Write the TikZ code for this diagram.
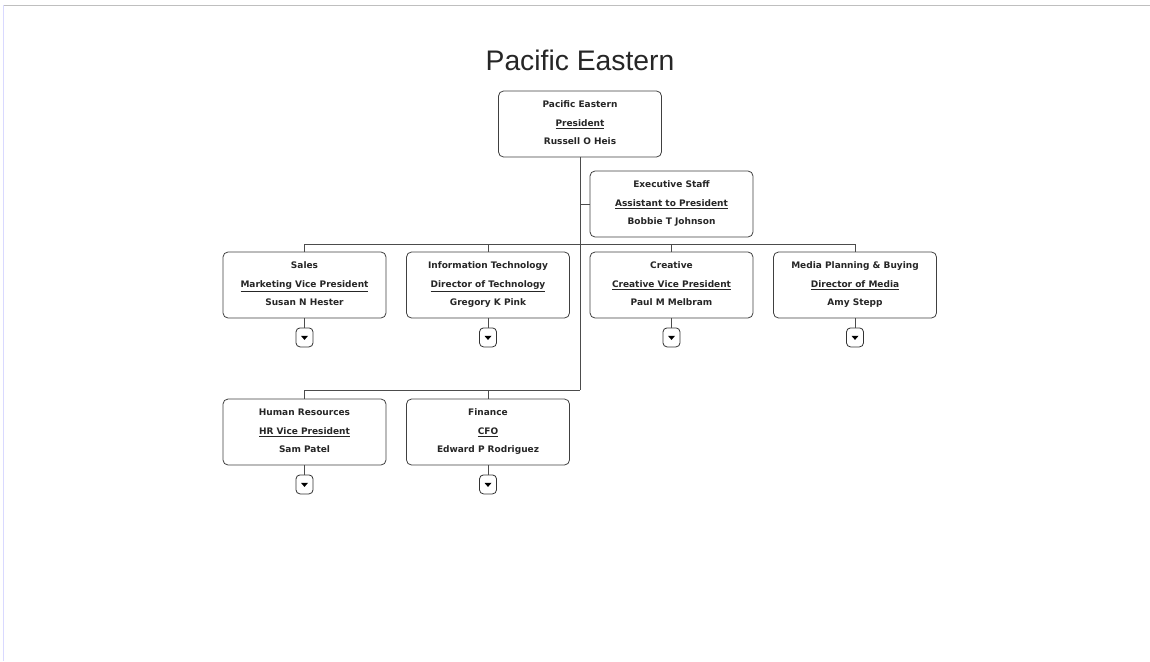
\documentclass[tikz,border=0pt]{standalone}
\usepackage{fontspec}
\setmainfont{Liberation Sans}
\newfontfamily\cardfont{DejaVu Sans}
\usetikzlibrary{calc}
% one org-chart card: name, centre, department, title, person
\newcommand{\orgcard}[5]{%
  \node[orgbox] (#1) at (#2) {};
  \node[boxtext] (#1dept) at ($(#1.north)+(0,17.3)$) {#3};
  \node[boxtext] (#1role) at ($(#1.north)+(0,35.8)$) {\underline{#4}};
  \node[boxtext] (#1name) at ($(#1.north)+(0,54.3)$) {#5};
}
% collapse button under a card
\newcommand{\orgbutton}[1]{%
  \node[expander] (#1btn) at ($(#1.south)+(0,19)$) {};
  \fill[black] ($(#1btn.center)+(-3.5,-1.5)$) -- ($(#1btn.center)+(3.5,-1.5)$) -- ($(#1btn.center)+(0,2.5)$) -- cycle;
  \draw[wire] (#1.south) -- (#1btn.north);
}
\begin{document}
\begin{tikzpicture}[x=1pt,y=-1pt,
  orgbox/.style={draw=black!75,line width=0.8pt,rounded corners=5pt,fill=white,
    minimum width=163pt,minimum height=66pt,inner sep=0pt},
  wire/.style={draw=black!70,line width=0.7pt},
  expander/.style={draw=black!80,line width=0.8pt,rounded corners=4pt,fill=white,
    minimum width=17pt,minimum height=19pt,inner sep=0pt},
  boxtext/.style={font=\cardfont\fontsize{9}{10}\selectfont\bfseries,text=black!85,
    inner sep=0pt,anchor=base}
]
\useasboundingbox (0,0) rectangle (1150,661);
% window frame edges
\draw[black!25,line width=1.2pt] (3,5.5) -- (1150,5.5);
\draw[blue!15,line width=1pt] (3,5) -- (3,661);

\node[font=\fontsize{28.3}{32}\selectfont,text=black!85] (title) at (580,60) {Pacific Eastern};

% cards
\orgcard{pres}{580,124}{Pacific Eastern}{President}{Russell O Heis}
\orgcard{exec}{671.5,204}{Executive Staff}{Assistant to President}{Bobbie T Johnson}
\orgcard{sales}{304.5,285}{Sales}{Marketing Vice President}{Susan N Hester}
\orgcard{it}{488,285}{Information Technology}{Director of Technology}{Gregory K Pink}
\orgcard{crea}{671.5,285}{Creative}{Creative Vice President}{Paul M Melbram}
\orgcard{media}{855,285}{Media Planning \& Buying}{Director of Media}{Amy Stepp}
\orgcard{hr}{304.5,432}{Human Resources}{HR Vice President}{Sam Patel}
\orgcard{fin}{488,432}{Finance}{CFO}{Edward P Rodriguez}

% reporting lines
\coordinate (busA) at (580,244);
\coordinate (busB) at (580,390);
\draw[wire] (pres.south) -- (busB);
\draw[wire] (pres.south |- exec.west) -- (exec.west);
\draw[wire] (sales.north) -- (sales.north |- busA) -- (media.north |- busA) -- (media.north);
\draw[wire] (it.north) -- (it.north |- busA);
\draw[wire] (crea.north) -- (crea.north |- busA);
\draw[wire] (hr.north) -- (hr.north |- busB) -- (busB);
\draw[wire] (fin.north) -- (fin.north |- busB);

% collapse buttons
\orgbutton{sales}
\orgbutton{it}
\orgbutton{crea}
\orgbutton{media}
\orgbutton{hr}
\orgbutton{fin}
\end{tikzpicture}
\end{document}
